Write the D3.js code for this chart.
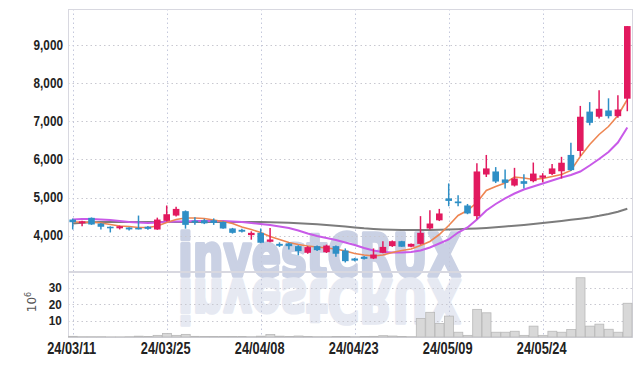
<!DOCTYPE html>
<html><head><meta charset="utf-8">
<script src="https://cdn.jsdelivr.net/npm/d3@7"></script>
<style>body{margin:0;background:#fff}svg{display:block}</style>
</head><body><svg id="c" width="642" height="366"></svg>
<script>
const dates = ["24/03/11","24/03/12","24/03/13","24/03/14","24/03/15","24/03/18","24/03/19","24/03/20","24/03/21","24/03/22",
"24/03/25","24/03/26","24/03/27","24/03/28","24/03/29","24/04/01","24/04/02","24/04/03","24/04/04","24/04/05",
"24/04/08","24/04/09","24/04/11","24/04/12","24/04/15","24/04/16","24/04/17","24/04/18","24/04/19","24/04/22",
"24/04/23","24/04/24","24/04/25","24/04/26","24/04/29","24/04/30","24/05/02","24/05/03","24/05/07","24/05/08",
"24/05/09","24/05/10","24/05/13","24/05/14","24/05/16","24/05/17","24/05/20","24/05/21","24/05/22","24/05/23",
"24/05/24","24/05/27","24/05/28","24/05/29","24/05/30","24/05/31","24/06/03","24/06/04","24/06/05","24/06/07"];
const open  = [4420,4320,4465,4315,4230,4190,4210,4200,4230,4158, 4385,4525,4640,4390,4400,4400,4360,4185,4150,4010,
               4070,3835,3780,3790,3720,3545,3720,3560,3720,3605, 3395,3440,3395,3545,3720,3850,3705,3780,4185,4400,
               4975,4895,4790,4510,5605,5685,5475,5315,5430,5430, 5520,5620,5690,6120,6225,7260,7125,7290,7140,7600];
const high  = [4447,4390,4475,4330,4240,4260,4220,4525,4250,4470, 4790,4755,4660,4480,4440,4450,4370,4200,4180,4110,
               4185,4200,3820,3810,3745,3720,3740,3760,3740,3660, 3410,3460,3660,3850,3870,3860,3790,4510,4665,4700,
               5370,5060,4830,5900,6120,5800,5740,5780,5610,5920, 5640,5880,6070,6440,7410,7510,7825,7610,7690,9510];
const low   = [4158,4245,4280,4160,4080,4160,4130,4160,4150,4150, 4370,4500,4180,4280,4300,4280,4180,4050,4080,3890,
               3800,3820,3700,3630,3480,3520,3590,3540,3440,3290, 3320,3370,3380,3530,3700,3700,3690,3760,4150,4380,
               4770,4770,4560,4430,5540,5380,5240,5290,5240,5400, 5400,5590,5500,5700,6090,6900,7080,7080,7100,7270];
const close = [4350,4375,4290,4230,4190,4245,4160,4175,4175,4420, 4560,4700,4280,4340,4320,4330,4185,4070,4100,4070,
               3810,3895,3730,3720,3590,3695,3615,3735,3520,3325, 3340,3385,3500,3700,3850,3705,3780,4070,4315,4580,
               4910,4850,4580,5685,5765,5420,5385,5500,5360,5630, 5580,5765,5915,5720,7125,6965,7335,7140,7315,9510];
const volume = [0.4,0.2,0.2,0.2,0.1,0.1,0.2,0.5,0.3,1.0, 2.2,1.0,1.6,0.4,0.3,0.3,0.3,0.3,0.3,0.2,
                0.5,1.5,0.5,0.3,0.6,0.3,0.2,0.2,0.3,0.3, 0.2,0.3,0.4,0.8,0.6,0.3,0.2,11.3,15.0,8.2,
                12.7,2.9,1.0,16.8,14.7,2.9,2.9,3.5,1.0,6.6, 1.0,3.5,2.9,4.5,36.0,6.6,7.8,4.7,2.9,20.5];
const ma5  = [4368,4342,4355,4329,4290,4250,4237,4210,4210,4250, 4342,4421,4460,4460,4447,4408,4368,4316,4224,4158,
              4079,3974,3895,3816,3763,3724,3697,3671,3645,3592, 3526,3487,3461,3487,3553,3605,3645,3737,3842,4026,
              4263,4526,4658,4868,5184,5289,5382,5539,5513,5474, 5500,5553,5605,5711,6079,6395,6658,6868,7158,7579];
const ma20 = [4421,4434,4434,4421,4408,4382,4355,4342,4329,4342, 4355,4368,4368,4382,4382,4382,4382,4368,4355,4329,
              4303,4276,4237,4197,4132,4053,3987,3934,3882,3816, 3750,3671,3605,3566,3553,3553,3566,3605,3684,3789,
              3895,4079,4211,4421,4658,4829,4974,5105,5211,5289, 5368,5447,5526,5592,5684,5842,6013,6197,6447,6842];
const ma60 = [4316,4337,4347,4353,4355,4356,4355,4356,4355,4355, 4356,4355,4356,4356,4355,4355,4356,4355,4355,4355,
              4355,4350,4342,4334,4324,4311,4295,4279,4258,4234, 4211,4189,4174,4161,4153,4147,4145,4145,4147,4153,
              4158,4166,4176,4187,4200,4218,4237,4258,4279,4303, 4329,4355,4384,4413,4442,4476,4518,4566,4624,4703];
const priceTicks = [4000,5000,6000,7000,8000,9000];
const volTicks = [10,20,30];
const xTickIdx = [0,10,20,30,40,50];

const svg = d3.select("#c");
const L = 68, R = 632, T = 9, MB = 271, VT = 272, VB = 337;
const FONT = "'Liberation Sans',Arial,sans-serif";
const idx = d3.range(dates.length);
const x = d3.scaleBand().domain(idx).range([L, R]).padding(0);
const cx = i => x(i) + x.bandwidth() / 2;
const y = d3.scaleLinear().domain([3066, 9960]).range([MB, T]);
const yv = d3.scaleLinear().domain([0, 39.5]).range([VB, VT]);

// watermark
const WMF = "'DejaVu Sans',sans-serif";
const wm = svg.append("g").attr("stroke-linejoin", "round");
wm.append("text").attr("x", 178).attr("y", 276).attr("textLength", 283).attr("lengthAdjust", "spacingAndGlyphs")
  .attr("font-family", WMF).attr("font-weight", "bold").attr("font-size", 58)
  .attr("fill", "#cad1e4").attr("stroke", "#cad1e4").attr("stroke-width", 3.5).text("investCRUX");
wm.append("text").attr("transform", "translate(0,556) scale(1,-1)").attr("x", 178).attr("y", 276)
  .attr("textLength", 283).attr("lengthAdjust", "spacingAndGlyphs")
  .attr("font-family", WMF).attr("font-weight", "bold").attr("font-size", 58)
  .attr("fill", "#e6e9f2").attr("stroke", "#e6e9f2").attr("stroke-width", 3.5).text("investCRUX");
svg.append("rect").attr("x", 0).attr("y", VB + 1).attr("width", 642).attr("height", 366 - VB - 1).attr("fill", "#fff");

// grids
const grid = svg.append("g").attr("stroke-dasharray", "1.5,3").attr("stroke-width", 1);
grid.selectAll(".hp").data(priceTicks).join("line").attr("x1", L).attr("x2", R)
  .attr("y1", d => Math.round(y(d)) + 0.5).attr("y2", d => Math.round(y(d)) + 0.5).attr("stroke", "#c8c8d0");
grid.selectAll(".hv").data(volTicks).join("line").attr("x1", L).attr("x2", R)
  .attr("y1", d => Math.round(yv(d)) + 0.5).attr("y2", d => Math.round(yv(d)) + 0.5).attr("stroke", "#c8c8d0");
grid.selectAll(".vx").data(xTickIdx).join("line")
  .attr("x1", d => Math.round(cx(d)) + 0.5).attr("x2", d => Math.round(cx(d)) + 0.5)
  .attr("y1", T).attr("y2", VB).attr("stroke", "#c4c8dc");

// frames
svg.append("rect").attr("x", L + 0.5).attr("y", T + 0.5).attr("width", R - L).attr("height", MB - T)
  .attr("fill", "none").attr("stroke", "#d8d8e0");
svg.append("rect").attr("x", L + 0.5).attr("y", VT + 0.5).attr("width", R - L).attr("height", VB - VT)
  .attr("fill", "none").attr("stroke", "#d8d8e0");

// volume bars
svg.append("g").selectAll("rect").data(idx).join("rect")
  .attr("x", i => x(i) + 0.5).attr("width", x.bandwidth() - 0.5)
  .attr("y", i => yv(volume[i])).attr("height", i => VB - yv(volume[i]))
  .attr("fill", "#d8d8d8").attr("stroke", "#b8b8b8").attr("stroke-width", 0.8);

// moving averages
const lineOf = arr => d3.line().x(i => cx(i)).y(i => y(arr[i]))(idx);
svg.append("path").attr("d", lineOf(ma60)).attr("fill", "none").attr("stroke", "#7c7c7c").attr("stroke-width", 2);
svg.append("path").attr("d", lineOf(ma20)).attr("fill", "none").attr("stroke", "#c85ae8").attr("stroke-width", 2);
svg.append("path").attr("d", lineOf(ma5)).attr("fill", "none").attr("stroke", "#ee8652").attr("stroke-width", 1.6);

// candles
const UP = "#e2195f", DOWN = "#2e8fc6";
const cg = svg.append("g");
const bw = 6.6;
cg.selectAll("line").data(idx).join("line")
  .attr("x1", i => cx(i)).attr("x2", i => cx(i))
  .attr("y1", i => y(high[i])).attr("y2", i => y(low[i]))
  .attr("stroke", i => close[i] >= open[i] ? UP : DOWN).attr("stroke-width", 1.5);
cg.selectAll("rect").data(idx).join("rect")
  .attr("x", i => cx(i) - bw / 2).attr("width", bw)
  .attr("y", i => y(Math.max(open[i], close[i])))
  .attr("height", i => Math.max(1.5, Math.abs(y(open[i]) - y(close[i]))))
  .attr("fill", i => close[i] >= open[i] ? UP : DOWN);

// axes labels
const ay = svg.append("g").attr("transform", `translate(${L},0)`)
  .call(d3.axisLeft(y).tickValues(priceTicks).tickFormat(d3.format(",")).tickSize(0).tickPadding(6));
ay.select(".domain").remove();
ay.selectAll("text").attr("font-family", FONT).attr("font-weight", "bold").attr("font-size", 14).attr("fill", "#222")
  .attr("transform", "scale(0.84,1)");

const av = svg.append("g").attr("transform", `translate(${L},0)`)
  .call(d3.axisLeft(yv).tickValues(volTicks).tickSize(0).tickPadding(7));
av.select(".domain").remove();
av.selectAll("text").attr("font-family", FONT).attr("font-weight", "bold").attr("font-size", 13).attr("fill", "#222")
  .attr("transform", "scale(0.9,1)");

const ax = svg.append("g").attr("transform", `translate(0,${VB})`)
  .call(d3.axisBottom(x).tickValues(xTickIdx).tickFormat(i => dates[i]).tickSize(0).tickPadding(6));
ax.select(".domain").remove();
ax.selectAll("text").attr("font-family", FONT).attr("font-weight", "bold").attr("font-size", 16).attr("fill", "#222")
  .attr("dy", "0.71em").attr("transform", "translate(-1,0) scale(0.8,1)");

const unit = svg.append("text").attr("transform", "translate(36,302) rotate(-90)")
  .attr("text-anchor", "middle").attr("font-family", "'DejaVu Sans',sans-serif").attr("font-size", 12).attr("fill", "#555");
unit.append("tspan").text("10");
unit.append("tspan").attr("dy", -5).attr("font-size", 8).text("6");
</script></body></html>
